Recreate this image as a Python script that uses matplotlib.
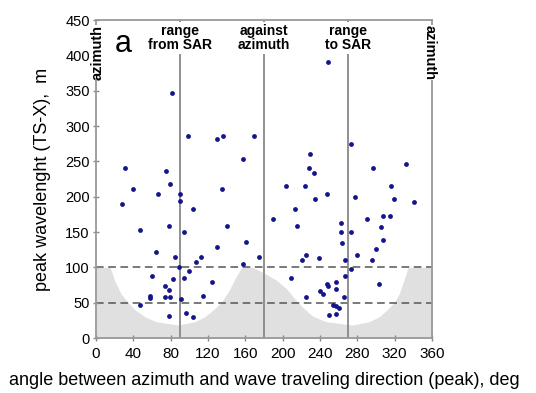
import matplotlib
matplotlib.use("Agg")
import matplotlib.pyplot as plt
import numpy as np

plt.rcParams['font.family'] = ['Liberation Sans', 'DejaVu Sans']

# scatter data: angle (deg), peak wavelength (m)
angle = [81, 99, 130, 136, 169, 158, 31, 75, 249, 273, 229, 228, 234, 297, 332,
         40, 79, 66, 90, 28, 90, 135, 104, 47, 78, 94, 140, 161, 130, 64,
         85, 112, 107, 158, 175, 89, 100, 60, 83, 94, 124, 74, 78, 58, 58,
         74, 79, 91, 115, 47, 78, 96, 104,
         204, 224, 247, 235, 213, 190, 215, 262, 262, 273, 264, 225, 221, 239,
         267, 280, 273, 267, 209, 247.5, 248.5, 257, 257, 240, 243, 225, 266,
         254, 257, 260, 250, 257, 290, 307, 315, 305, 307, 300, 296, 303, 278,
         316, 319, 341]
wavelength = [347, 286, 282, 286, 286, 253, 241, 237, 391, 274, 261, 241, 233, 241, 246,
              211, 218, 204, 204, 190, 194, 211, 182, 153, 159, 150, 159, 136, 129, 122,
              115, 115, 108, 105, 115, 100, 95, 88, 83, 85, 79, 74, 68, 59, 57,
              58, 58, 55, 60, 46, 31, 36, 30,
              215, 215, 204, 197, 182, 169, 159, 163, 150, 150, 135, 118, 110, 113,
              110, 118, 98, 88, 85, 76, 74, 79, 70, 66, 62, 58, 58,
              46, 45, 42, 33, 34, 169, 172, 172, 157, 138, 126, 110, 76, 200,
              215, 197, 193]

# boundary of the grey (undetectable) region
bound_angle = [0, 15, 17.5, 19.6, 26.7, 34.5, 41.7, 52.4, 64.8, 88, 105.8, 116.5,
               126, 135, 142, 149, 156, 168, 180, 193, 204, 212.6, 221, 232,
               246.5, 275, 292.7, 303.4, 312, 319.4, 325, 330, 334.5, 360]
bound_value = [100, 100, 91.5, 82, 63, 50, 40, 30, 23, 18.4, 23, 30,
               40, 52, 66, 84, 100, 100, 92, 82, 70, 56, 44, 31,
               23, 18.4, 23, 30, 40, 50, 63, 82, 100, 100]

xticks = list(range(0, 361, 40))
yticks = list(range(0, 451, 50))
direction_angles = [90, 180, 270]
direction_labels = ["range\nfrom SAR", "against\nazimuth", "range\nto SAR"]

fig = plt.figure(figsize=(5.36, 3.93), dpi=100)
ax = fig.add_axes([96/536, 1-338/393, (432-96)/536, (338-20)/393])

ax.fill_between(bound_angle, 0, bound_value, color='#e0e0e0', lw=0, zorder=0)
for yv in (50, 100):
    ax.axhline(yv, color='#555555', lw=1.1, ls=(0, (5, 3)), zorder=1)
for xv in direction_angles:
    ax.axvline(xv, color='#888888', lw=1.3, zorder=1)

ax.scatter(angle, wavelength, s=12, color='#14148c', zorder=3, linewidths=0)

ax.set_xlim(0, 360)
ax.set_ylim(0, 450)
ax.set_xticks(xticks)
ax.set_yticks(yticks)
ax.tick_params(direction='inout', length=5, color='#888888', width=1)
ax.tick_params(axis='x', labelsize=11, pad=4)
ax.tick_params(axis='y', labelsize=10.5, pad=2)
for s in ax.spines.values():
    s.set_color('#999999')
    s.set_linewidth(1.3)

bbox = dict(facecolor='white', edgecolor='none', pad=1.5)
for xv, lab in zip(direction_angles, direction_labels):
    ax.text(xv, 424, lab, ha='center', va='center', fontsize=10, fontweight='bold',
            linespacing=1.0, bbox=bbox, zorder=4)
bbox2 = dict(facecolor='white', edgecolor='none', pad=0.3)
ax.text(2, 404, "azimuth", rotation=90, ha='center', va='center', fontsize=10.5,
        fontweight='bold', bbox=bbox2, zorder=4)
ax.text(357.5, 404, "azimuth", rotation=270, ha='center', va='center', fontsize=10.5,
        fontweight='bold', bbox=bbox2, zorder=4)
ax.text(29, 416, "a", ha='center', va='center', fontsize=22, zorder=4)

ax.set_ylabel("peak wavelenght (TS-X),  m", fontsize=13, labelpad=10)
ax.set_xlabel("angle between azimuth and wave traveling direction (peak), deg",
              fontsize=13, labelpad=8)

fig.savefig("out.png", dpi=100)
